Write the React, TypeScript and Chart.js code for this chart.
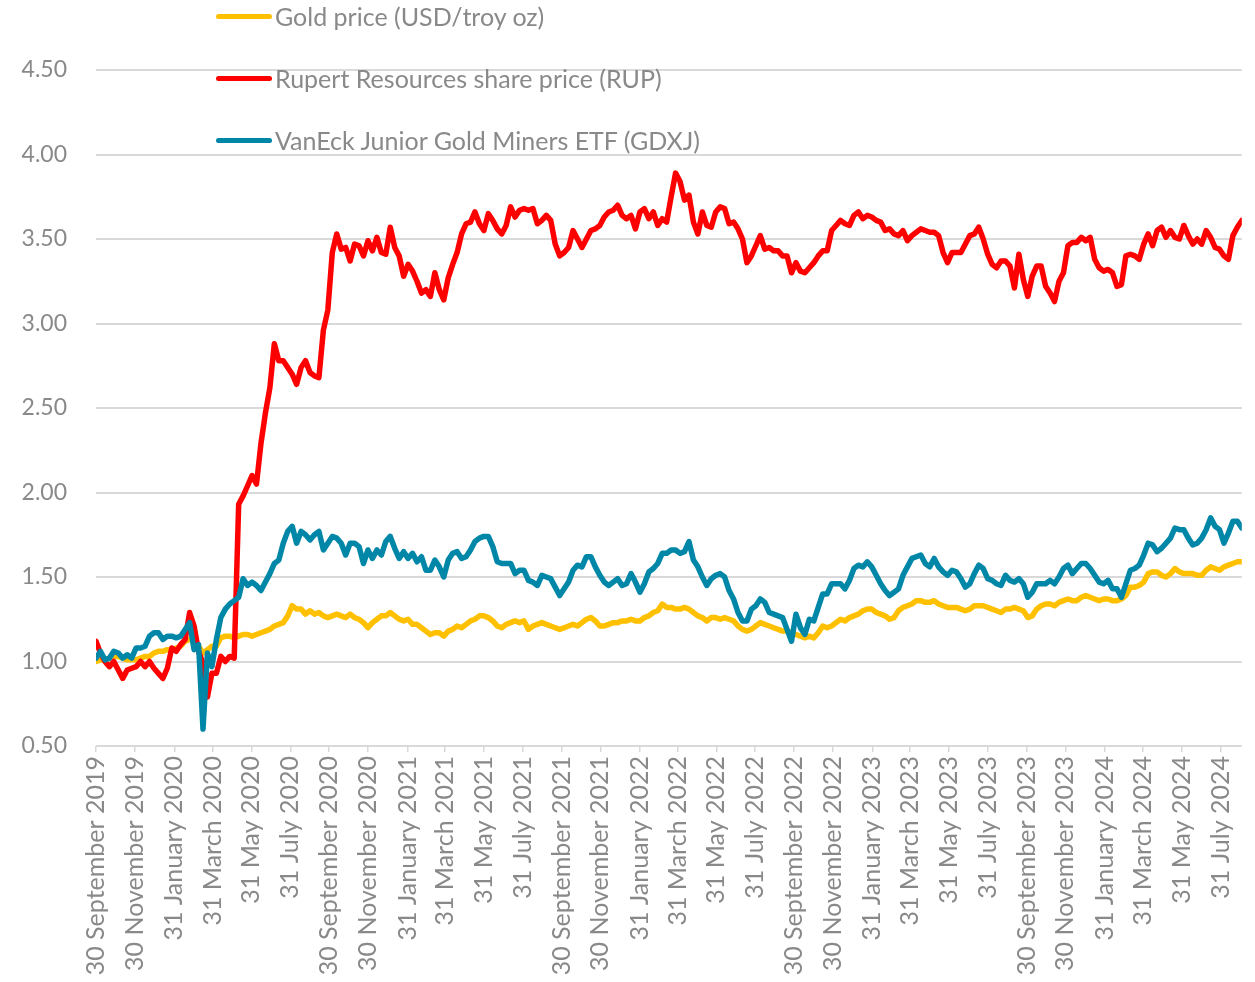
import React, { useEffect, useRef } from "react";
import { Chart, registerables } from "chart.js";

Chart.register(...registerables);

// Weekly observations starting 30 September 2019 (index 0), rebased to 1.00
const START_DATE = "2019-09-30";
const STEP_DAYS = 7;

const goldSeries = [
  1.00, 1.01, 1.01, 1.02, 1.03, 1.03, 1.02, 1.01, 1.01, 1.01,
  1.02, 1.03, 1.03, 1.05, 1.06, 1.06, 1.07, 1.07, 1.08, 1.09,
  1.12, 1.13, 1.14, 1.09, 1.05, 1.07, 1.09, 1.09, 1.14, 1.15,
  1.15, 1.14, 1.15, 1.16, 1.16, 1.15, 1.16, 1.17, 1.18, 1.19,
  1.21, 1.22, 1.23, 1.27, 1.33, 1.31, 1.31, 1.28, 1.30, 1.28,
  1.29, 1.27, 1.26, 1.27, 1.28, 1.27, 1.26, 1.28, 1.26, 1.25,
  1.23, 1.20, 1.23, 1.25, 1.27, 1.27, 1.29, 1.27, 1.25, 1.24,
  1.25, 1.22, 1.22, 1.20, 1.18, 1.16, 1.17, 1.17, 1.15, 1.18,
  1.19, 1.21, 1.20, 1.22, 1.24, 1.25, 1.27, 1.27, 1.26, 1.24,
  1.21, 1.20, 1.22, 1.23, 1.24, 1.23, 1.24, 1.19, 1.21, 1.22,
  1.23, 1.22, 1.21, 1.20, 1.19, 1.20, 1.21, 1.22, 1.21, 1.23,
  1.25, 1.26, 1.24, 1.21, 1.21, 1.22, 1.23, 1.23, 1.24, 1.24,
  1.25, 1.24, 1.24, 1.26, 1.27, 1.29, 1.30, 1.34, 1.32, 1.32,
  1.31, 1.31, 1.32, 1.31, 1.29, 1.27, 1.26, 1.24, 1.26, 1.26,
  1.25, 1.26, 1.25, 1.24, 1.21, 1.19, 1.18, 1.19, 1.21, 1.23,
  1.22, 1.21, 1.20, 1.19, 1.18, 1.18, 1.17, 1.16, 1.15, 1.14,
  1.15, 1.14, 1.17, 1.21, 1.20, 1.21, 1.23, 1.25, 1.24, 1.26,
  1.27, 1.28, 1.30, 1.31, 1.31, 1.29, 1.28, 1.27, 1.25, 1.26,
  1.30, 1.32, 1.33, 1.34, 1.36, 1.36, 1.35, 1.35, 1.36, 1.34,
  1.33, 1.32, 1.32, 1.32, 1.31, 1.30, 1.31, 1.33, 1.33, 1.33,
  1.32, 1.31, 1.30, 1.29, 1.31, 1.31, 1.32, 1.31, 1.30, 1.26,
  1.27, 1.31, 1.33, 1.34, 1.34, 1.33, 1.35, 1.36, 1.37, 1.36,
  1.36, 1.38, 1.39, 1.38, 1.37, 1.36, 1.37, 1.37, 1.36, 1.36,
  1.37, 1.39, 1.44, 1.44, 1.45, 1.47, 1.52, 1.53, 1.53, 1.51,
  1.50, 1.52, 1.55, 1.53, 1.52, 1.52, 1.52, 1.51, 1.51, 1.54,
  1.56, 1.55, 1.54, 1.56, 1.57, 1.58, 1.59, 1.59,
];

const rupSeries = [
  1.12, 1.05, 1.00, 0.97, 1.00, 0.95, 0.90, 0.95, 0.96, 0.97,
  1.00, 0.97, 1.00, 0.96, 0.93, 0.90, 0.96, 1.08, 1.06, 1.10,
  1.13, 1.29, 1.21, 1.06, 0.99, 0.79, 0.93, 0.93, 1.03, 1.00,
  1.03, 1.02, 1.93, 1.98, 2.04, 2.10, 2.05, 2.29, 2.47, 2.62,
  2.88, 2.78, 2.78, 2.74, 2.70, 2.64, 2.74, 2.78, 2.71, 2.69,
  2.68, 2.96, 3.08, 3.42, 3.53, 3.44, 3.45, 3.37, 3.47, 3.46,
  3.40, 3.49, 3.43, 3.51, 3.42, 3.41, 3.57, 3.45, 3.40, 3.28,
  3.35, 3.31, 3.25, 3.18, 3.20, 3.16, 3.30, 3.20, 3.14, 3.27,
  3.35, 3.42, 3.53, 3.59, 3.60, 3.66, 3.59, 3.55, 3.65, 3.61,
  3.56, 3.53, 3.58, 3.69, 3.63, 3.67, 3.68, 3.67, 3.68, 3.59,
  3.61, 3.64, 3.61, 3.47, 3.40, 3.42, 3.45, 3.55, 3.50, 3.45,
  3.50, 3.55, 3.56, 3.58, 3.63, 3.66, 3.67, 3.70, 3.64, 3.62,
  3.64, 3.56, 3.66, 3.68, 3.62, 3.66, 3.58, 3.62, 3.60, 3.75,
  3.89, 3.84, 3.73, 3.76, 3.60, 3.53, 3.66, 3.58, 3.57, 3.66,
  3.69, 3.68, 3.59, 3.60, 3.56, 3.50, 3.36, 3.40, 3.46, 3.52,
  3.44, 3.45, 3.43, 3.43, 3.40, 3.40, 3.30, 3.36, 3.31, 3.30,
  3.33, 3.36, 3.40, 3.43, 3.43, 3.55, 3.58, 3.61, 3.59, 3.58,
  3.64, 3.66, 3.62, 3.64, 3.63, 3.61, 3.60, 3.55, 3.56, 3.53,
  3.52, 3.55, 3.49, 3.52, 3.54, 3.56, 3.55, 3.54, 3.54, 3.52,
  3.42, 3.36, 3.42, 3.42, 3.42, 3.47, 3.52, 3.53, 3.57, 3.50,
  3.41, 3.35, 3.33, 3.37, 3.37, 3.34, 3.21, 3.41, 3.26, 3.16,
  3.28, 3.34, 3.34, 3.22, 3.18, 3.13, 3.25, 3.30, 3.46, 3.48,
  3.48, 3.51, 3.49, 3.51, 3.38, 3.33, 3.31, 3.32, 3.30, 3.22,
  3.23, 3.40, 3.41, 3.40, 3.38, 3.47, 3.53, 3.46, 3.55, 3.57,
  3.51, 3.55, 3.51, 3.50, 3.58, 3.52, 3.47, 3.50, 3.47, 3.55,
  3.51, 3.45, 3.44, 3.40, 3.38, 3.52, 3.57, 3.61,
];

const gdxjSeries = [
  1.02, 1.06, 1.01, 1.02, 1.06, 1.05, 1.02, 1.04, 1.02, 1.08,
  1.08, 1.09, 1.15, 1.17, 1.17, 1.13, 1.15, 1.15, 1.14, 1.15,
  1.19, 1.23, 1.07, 1.10, 0.60, 1.05, 0.97, 1.13, 1.26, 1.31,
  1.34, 1.36, 1.38, 1.49, 1.45, 1.47, 1.45, 1.42, 1.47, 1.52,
  1.58, 1.60, 1.70, 1.77, 1.80, 1.70, 1.77, 1.75, 1.72, 1.75,
  1.77, 1.66, 1.70, 1.74, 1.73, 1.70, 1.63, 1.70, 1.70, 1.68,
  1.58, 1.66, 1.61, 1.66, 1.63, 1.71, 1.74, 1.67, 1.61, 1.65,
  1.61, 1.64, 1.59, 1.62, 1.54, 1.54, 1.60, 1.56, 1.50, 1.60,
  1.64, 1.65, 1.61, 1.62, 1.66, 1.71, 1.73, 1.74, 1.74, 1.68,
  1.59, 1.58, 1.58, 1.58, 1.52, 1.54, 1.54, 1.48, 1.47, 1.45,
  1.51, 1.50, 1.49, 1.44, 1.39, 1.43, 1.47, 1.54, 1.57, 1.56,
  1.62, 1.62, 1.56, 1.51, 1.47, 1.45, 1.47, 1.49, 1.45, 1.46,
  1.52, 1.47, 1.41, 1.46, 1.53, 1.55, 1.58, 1.64, 1.64, 1.66,
  1.66, 1.64, 1.65, 1.71, 1.60, 1.56, 1.50, 1.45, 1.49, 1.51,
  1.52, 1.50, 1.42, 1.37, 1.29, 1.24, 1.24, 1.31, 1.33, 1.37,
  1.35, 1.29, 1.28, 1.27, 1.26, 1.19, 1.12, 1.28, 1.20, 1.16,
  1.25, 1.24, 1.32, 1.40, 1.40, 1.46, 1.46, 1.46, 1.43, 1.48,
  1.55, 1.57, 1.56, 1.59, 1.56, 1.51, 1.46, 1.42, 1.39, 1.41,
  1.43, 1.51, 1.56, 1.61, 1.62, 1.63, 1.58, 1.56, 1.61, 1.56,
  1.53, 1.51, 1.54, 1.53, 1.49, 1.44, 1.46, 1.52, 1.57, 1.55,
  1.49, 1.48, 1.46, 1.45, 1.51, 1.48, 1.47, 1.49, 1.46, 1.38,
  1.41, 1.46, 1.46, 1.46, 1.48, 1.46, 1.50, 1.55, 1.57, 1.52,
  1.55, 1.58, 1.58, 1.55, 1.51, 1.47, 1.46, 1.48, 1.43, 1.43,
  1.38, 1.46, 1.54, 1.55, 1.57, 1.63, 1.70, 1.69, 1.65, 1.67,
  1.70, 1.73, 1.79, 1.78, 1.78, 1.73, 1.69, 1.70, 1.73, 1.78,
  1.85, 1.80, 1.78, 1.70, 1.76, 1.83, 1.83, 1.79,
];

const seriesNames = [
  "Gold price (USD/troy oz)",
  "Rupert Resources share price (RUP)",
  "VanEck Junior Gold Miners ETF (GDXJ)",
];
const seriesColors = ["#FFC000", "#FF0000", "#0087A8"];

const tickDates = [
  "2019-09-30", "2019-11-30", "2020-01-31", "2020-03-31", "2020-05-31", "2020-07-31",
  "2020-09-30", "2020-11-30", "2021-01-31", "2021-03-31", "2021-05-31", "2021-07-31",
  "2021-09-30", "2021-11-30", "2022-01-31", "2022-03-31", "2022-05-31", "2022-07-31",
  "2022-09-30", "2022-11-30", "2023-01-31", "2023-03-31", "2023-05-31", "2023-07-31",
  "2023-09-30", "2023-11-30", "2024-01-31", "2024-03-31", "2024-05-31", "2024-07-31",
];
const monthNames = [
  "January", "February", "March", "April", "May", "June",
  "July", "August", "September", "October", "November", "December",
];
const yTicks = [0.5, 1.0, 1.5, 2.0, 2.5, 3.0, 3.5, 4.0, 4.5];

const FONT = "Lato, 'Open Sans', sans-serif";
const TEXT_COLOR = "#898989";
const GRID_COLOR = "#d9d9d9";

const DAY_MS = 86400000;
const dayOffset = (iso: string) => Math.round((Date.parse(iso) - Date.parse(START_DATE)) / DAY_MS);
const tickDays = tickDates.map(dayOffset);
const tickLabels = tickDates.map((iso) => {
  const [y, m, d] = iso.split("-").map(Number);
  return `${d} ${monthNames[m - 1]} ${y}`;
});

const toPoints = (arr: number[]) => arr.map((v, i) => ({ x: i * STEP_DAYS, y: v }));

export default function App() {
  const canvasRef = useRef<HTMLCanvasElement | null>(null);

  useEffect(() => {
    const canvas = canvasRef.current;
    if (!canvas) return;
    const lastDay = (goldSeries.length - 1) * STEP_DAYS;
    const seriesData = [goldSeries, rupSeries, gdxjSeries];
    const chart = new Chart(canvas, {
      type: "line",
      data: {
        datasets: seriesData.map((arr, i) => ({
          label: seriesNames[i],
          data: toPoints(arr),
          borderColor: seriesColors[i],
          backgroundColor: seriesColors[i],
          borderWidth: 5.5,
          pointRadius: 0,
          tension: 0,
          borderJoinStyle: "round" as const,
          borderCapStyle: "round" as const,
          order: 3 - i,
        })),
      },
      options: {
        animation: false,
        responsive: false,
        maintainAspectRatio: false,
        devicePixelRatio: 1,
        layout: { padding: { left: 0, right: 12, top: 70, bottom: 0 } },
        plugins: { legend: { display: false }, tooltip: { enabled: false } },
        scales: {
          x: {
            type: "linear",
            min: 0,
            max: lastDay,
            afterBuildTicks: (scale: any) => {
              scale.ticks = tickDays.map((v) => ({ value: v }));
            },
            afterFit: (scale: any) => {
              scale.height = 236;
            },
            grid: {
              display: true,
              drawOnChartArea: false,
              drawTicks: true,
              tickLength: 6,
              color: GRID_COLOR,
              lineWidth: 1.5,
            },
            border: { display: false },
            ticks: {
              autoSkip: false,
              minRotation: 90,
              maxRotation: 90,
              padding: 4,
              color: TEXT_COLOR,
              font: { family: FONT, size: 25 },
              callback: (_v: any, index: number) => tickLabels[index],
            },
          },
          y: {
            type: "linear",
            min: 0.5,
            max: 4.5,
            afterBuildTicks: (scale: any) => {
              scale.ticks = yTicks.map((v) => ({ value: v }));
            },
            afterFit: (scale: any) => {
              scale.width = 96;
            },
            grid: { color: GRID_COLOR, lineWidth: 2, drawTicks: false },
            border: { display: false },
            ticks: {
              padding: 29,
              color: TEXT_COLOR,
              font: { family: FONT, size: 23 },
              callback: (v: any) => Number(v).toFixed(2),
            },
          },
        },
      },
    });
    return () => chart.destroy();
  }, []);

  const legendCenters = [16, 78, 140];

  return (
    <div style={{ position: "fixed", left: 0, top: 0, width: 1255, height: 982, background: "#fff" }}>
      <canvas ref={canvasRef} width={1255} height={982} style={{ width: 1255, height: 982, display: "block" }} />
      {seriesNames.map((name, i) => (
        <div
          key={name}
          style={{
            position: "absolute",
            left: 216,
            top: legendCenters[i] - 16,
            height: 32,
            display: "flex",
            alignItems: "center",
            whiteSpace: "nowrap",
          }}
        >
          <span
            style={{
              display: "inline-block",
              width: 56,
              height: 5,
              borderRadius: 3,
              background: seriesColors[i],
            }}
          />
          <span style={{ marginLeft: 3, fontFamily: FONT, fontSize: 25, color: TEXT_COLOR }}>{name}</span>
        </div>
      ))}
    </div>
  );
}
